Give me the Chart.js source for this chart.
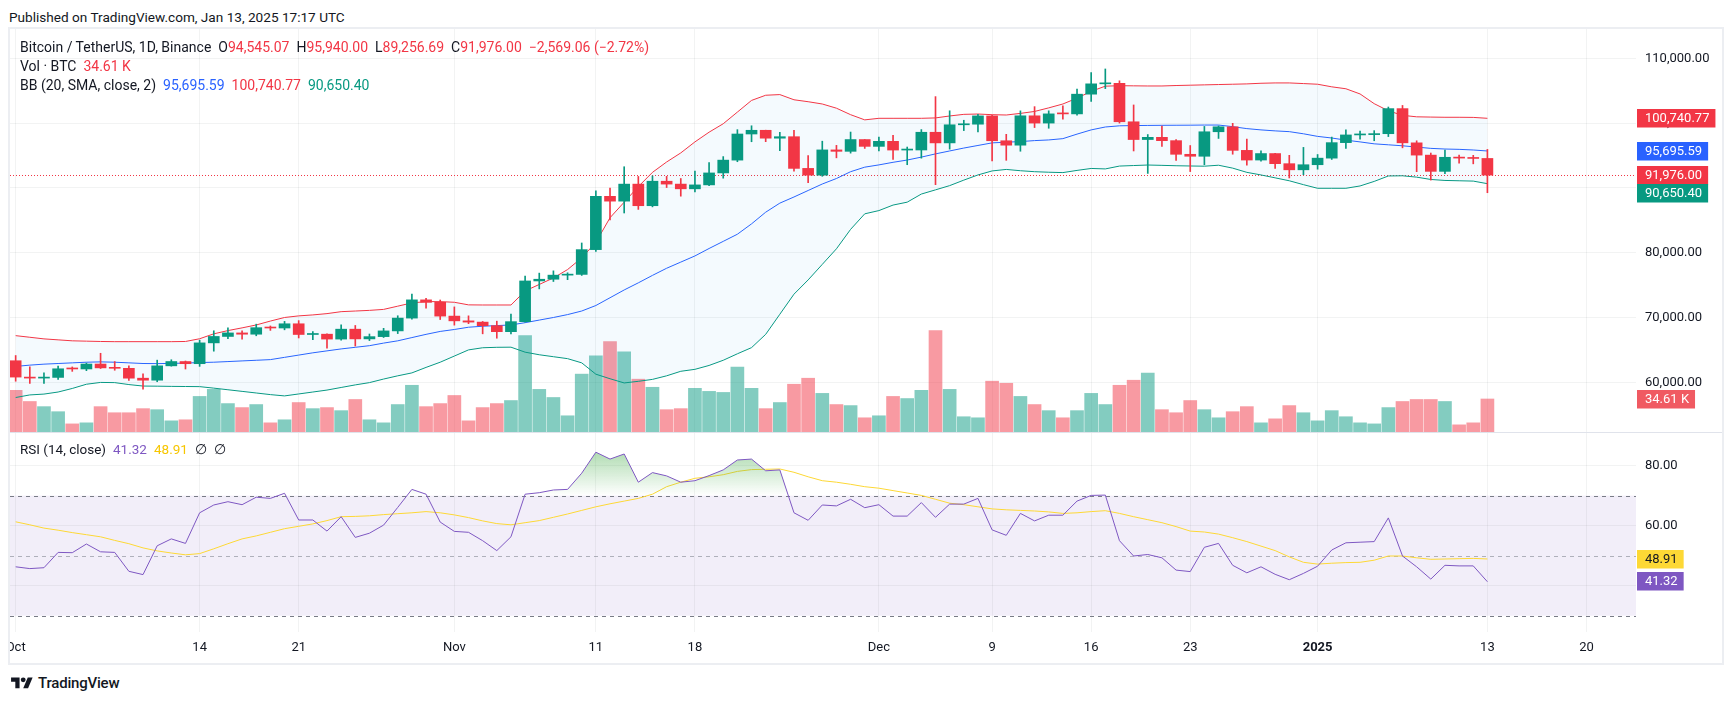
<!DOCTYPE html>
<html>
<head>
<meta charset="utf-8">
<title>Bitcoin / TetherUS 1D</title>
<script src="https://cdn.jsdelivr.net/npm/chart.js@4.4.1/dist/chart.umd.min.js"></script>
<style>
  html, body { margin: 0; padding: 0; background: #fff; }
  body { width: 1734px; height: 703px; position: relative; overflow: hidden;
         font-family: Roboto, "Liberation Sans", Arial, sans-serif; color: #131722; }
  .frame { position: absolute; left: 8px; top: 27px; width: 1716px; height: 638px;
           border: 2px solid #eceef2; box-sizing: border-box; }
  canvas { position: absolute; }
  #priceChart { left: 10px; top: 29px; }
  #rsiChart { left: 10px; top: 432px; }
  .published { position: absolute; left: 9px; top: 8px; font-size: 13.6px; line-height: 18px; }
  .legend { position: absolute; left: 20px; font-size: 14px; line-height: 19px; white-space: nowrap; }
  .legend .g { margin-left: 7px; }
  .rsi-legend { font-size: 13.5px; }
  .red { color: #f23645; } .blue { color: #2962ff; } .green { color: #089981; }
  .purple { color: #7e57c2; } .yellow { color: #f7c600; }
  .footer { position: absolute; left: 11px; top: 673px; height: 20px; display: flex; align-items: center; }
  .footer span { font-size: 15px; font-weight: 500; margin-left: 5px; letter-spacing: -0.2px; }
</style>
</head>
<body>
<div class="published">Published on TradingView.com, Jan 13, 2025 17:17 UTC</div>
<div class="frame"></div>
<canvas id="priceChart" width="1712" height="403"></canvas>
<canvas id="rsiChart" width="1712" height="231"></canvas>

<div class="legend" style="top:38px">
  <div>Bitcoin / TetherUS, 1D, Binance<span class="g">O</span><span class="red">94,545.07</span><span class="g">H</span><span class="red">95,940.00</span><span class="g">L</span><span class="red">89,256.69</span><span class="g">C</span><span class="red">91,976.00</span><span class="g red">−2,569.06 (−2.72%)</span></div>
  <div>Vol · BTC<span class="g red">34.61 K</span></div>
  <div>BB (20, SMA, close, 2)<span class="g blue">95,695.59</span><span class="g red">100,740.77</span><span class="g green">90,650.40</span></div>
</div>
<div class="legend rsi-legend" style="top:440px">RSI (14, close)<span class="g purple">41.32</span><span class="g yellow">48.91</span><span class="g">∅</span><span class="g">∅</span></div>

<div class="footer">
  <svg width="22" height="17" viewBox="0 0 36 28"><path fill="#131722" d="M14 22H7V11H0V4h14v18zM28 22h-8l7.5-18h8L28 22z"/><circle fill="#131722" cx="20" cy="8" r="4"/></svg>
  <span>TradingView</span>
</div>

<script>
// daily candles, Oct 1 2024 .. Jan 13 2025 (index 0 = Oct 1)
const opens = [
  63327.6, 60804.5, 60649.3, 60752.7, 62086.0, 62058.0, 62819.9, 62224.0, 62160.5, 60636.0,
  60326.4, 62540.0, 63206.2, 62870.0, 66083.9, 67074.1, 67620.0, 67421.8, 68428.0, 68378.0,
  69032.0, 67377.5, 67426.0, 66668.6, 68198.3, 66698.3, 67047.7, 67930.0, 69907.6, 72720.5,
  72339.0, 70215.2, 69482.5, 69289.3, 68741.1, 67811.5, 69359.0, 75639.4, 75904.9, 76538.0,
  76649.1, 80474.2, 88701.5, 87955.8, 90584.2, 87250.4, 91031.8, 90587.0, 89855.9, 90464.1,
  92310.8, 94286.6, 98317.1, 98892.0, 97672.4, 97900.0, 93010.0, 91965.2, 95863.1, 95643.9,
  97460.0, 96408.0, 97185.2, 95840.6, 95849.7, 98587.3, 96945.6, 99740.8, 99832.0, 101109.6,
  97276.5, 96593.0, 101125.0, 100004.3, 101424.3, 101420.0, 104464.0, 106058.7, 106133.7, 100204.0,
  97461.9, 97805.4, 97292.0, 95186.3, 94881.5, 98663.6, 99429.6, 95791.6, 94299.0, 95300.0,
  93738.2, 92792.1, 93576.0, 94591.8, 96984.8, 98174.2, 98220.5, 98363.6, 102235.6, 96954.6,
  95060.6, 92552.5, 94726.1, 94600.0, 94545.07
]
const highs = [
  64130.6, 62390.3, 61469.0, 62484.9, 62370.6, 62975.0, 64478.0, 63200.0, 62543.8, 61321.0,
  63417.6, 63480.0, 63285.7, 66500.0, 67950.0, 68424.0, 67939.4, 68969.9, 68693.3, 69400.0,
  69519.5, 67836.0, 67472.8, 68850.0, 68771.5, 67454.6, 68332.5, 70270.0, 73620.1, 72961.0,
  72700.0, 71632.9, 70256.4, 69387.4, 69433.1, 70522.8, 76400.0, 76849.9, 77199.9, 76900.0,
  81500.0, 89530.5, 89956.9, 93265.6, 91765.2, 91850.0, 91779.7, 91449.9, 92594.0, 93905.5,
  94832.0, 98988.0, 99588.0, 98908.9, 98564.0, 98871.8, 94973.4, 97208.2, 96564.0, 98620.0,
  97464.0, 97836.0, 98130.0, 96305.5, 99000.0, 104088.0, 101899.0, 100439.2, 101351.0, 101215.9,
  98270.0, 101888.0, 102540.0, 101895.3, 102650.0, 105250.0, 107793.1, 108353.0, 106525.0, 102800.1,
  98233.0, 99540.6, 97448.1, 96538.9, 99488.0, 99569.2, 99963.7, 97544.6, 95734.0, 95340.0,
  95024.5, 96250.0, 95151.2, 97839.5, 98976.9, 98778.4, 98836.9, 102480.0, 102724.4, 97268.7,
  95382.3, 95836.0, 95050.9, 95024.5, 95940.0
]
const lows = [
  60164.0, 59828.1, 59828.1, 60459.9, 61689.3, 61798.0, 62128.0, 61860.0, 60300.0, 58946.0,
  60087.6, 62487.2, 62050.0, 62457.8, 64800.0, 66750.5, 66666.0, 67177.8, 68010.0, 68100.0,
  66840.7, 66571.4, 65260.0, 66510.0, 65596.3, 66439.9, 66913.7, 67518.6, 69730.0, 71436.0,
  69685.8, 68820.0, 69050.4, 67478.7, 66803.6, 67458.9, 69298.0, 74416.0, 75555.0, 75835.2,
  76492.0, 80216.0, 85072.0, 86127.9, 86682.8, 87073.4, 90056.2, 88722.0, 89376.9, 90357.0,
  91500.0, 94040.0, 97122.1, 97136.0, 95734.8, 92600.2, 90791.1, 91792.1, 94640.0, 95365.0,
  96092.0, 95693.9, 94395.0, 93578.2, 94587.8, 90500.0, 95981.7, 98844.0, 98657.7, 94150.1,
  94256.5, 95658.2, 99311.6, 99205.0, 100609.4, 101237.1, 103333.0, 105321.5, 100000.0, 95700.0,
  92232.5, 96398.4, 94250.4, 92520.0, 93569.0, 97632.0, 95199.1, 93500.0, 94135.7, 93009.5,
  91530.5, 92033.7, 92888.0, 94392.0, 96100.0, 97514.8, 97276.8, 97920.0, 96181.8, 92500.9,
  91203.7, 92206.0, 93831.7, 93712.5, 89256.69
]
const closes = [
  60804.5, 60649.3, 60752.7, 62086.0, 62058.0, 62819.9, 62224.0, 62160.5, 60636.0, 60326.4,
  62540.0, 63206.2, 62870.0, 66083.9, 67074.1, 67620.0, 67421.8, 68428.0, 68378.0, 69032.0,
  67377.5, 67426.0, 66668.6, 68198.3, 66698.3, 67047.7, 67930.0, 69907.6, 72720.5, 72339.0,
  70215.2, 69482.5, 69289.3, 68741.1, 67811.5, 69359.0, 75639.4, 75904.9, 76538.0, 76649.1,
  80474.2, 88701.5, 87955.8, 90584.2, 87250.4, 91031.8, 90587.0, 89855.9, 90464.1, 92310.8,
  94286.6, 98317.1, 98892.0, 97672.4, 97900.0, 93010.0, 91965.2, 95863.1, 95643.9, 97460.0,
  96408.0, 97185.2, 95840.6, 95849.7, 98587.3, 96945.6, 99740.8, 99832.0, 101109.6, 97276.5,
  96593.0, 101125.0, 100004.3, 101424.3, 101420.0, 104464.0, 106058.7, 106133.7, 100204.0, 97461.9,
  97805.4, 97292.0, 95186.3, 94881.5, 98663.6, 99429.6, 95791.6, 94299.0, 95300.0, 93738.2,
  92792.1, 93576.0, 94591.8, 96984.8, 98174.2, 98220.5, 98363.6, 102235.6, 96954.6, 95060.6,
  92552.5, 94726.1, 94600.0, 94545.06, 91976.0
]
// volume, thousands of BTC
const volumesK = [
  43.7, 32.0, 26.6, 21.3, 8.5, 9.6, 26.6, 20.2, 20.2, 24.5,
  23.4, 11.7, 12.8, 37.3, 44.7, 29.8, 25.6, 28.8, 9.6, 12.8,
  30.9, 24.5, 25.6, 22.4, 34.1, 12.8, 9.6, 28.8, 49.0, 26.6,
  29.8, 38.3, 11.7, 25.6, 29.8, 33.0, 101.2, 44.7, 36.2, 17.0,
  60.7, 79.9, 94.8, 84.1, 55.4, 46.9, 23.4, 24.5, 45.8, 42.6,
  41.5, 68.2, 45.8, 24.5, 30.9, 50.1, 56.4, 40.5, 28.8, 27.7,
  14.9, 17.0, 37.3, 35.1, 43.7, 106.5, 44.7, 16.0, 14.9, 53.3,
  51.1, 37.3, 28.8, 22.4, 14.9, 22.4, 40.5, 28.8, 49.0, 54.3,
  61.8, 23.4, 20.2, 33.0, 23.4, 14.9, 21.3, 26.6, 9.6, 13.8,
  27.7, 20.2, 11.7, 22.4, 16.0, 9.6, 8.5, 25.6, 32.0, 34.1,
  34.1, 32.0, 7.5, 9.6, 34.61
]
// Bollinger bands (20, 2), thousands of USDT
const bbUpperK = [
  67.2, 66.95, 66.7, 66.55, 66.4, 66.35, 66.3, 66.27, 66.27, 66.27,
  66.27, 66.27, 66.3, 66.72, 67.48, 67.98, 68.4, 68.85, 69.45, 70.0,
  70.25, 70.4, 70.6, 70.9, 71.0, 71.1, 71.25, 71.75, 72.25, 72.45,
  72.45, 72.35, 71.95, 71.93, 71.93, 71.93, 74.1, 75.1, 76.1, 77.4,
  79.2, 81.6, 85.4, 87.8, 90.2, 92.4, 94.0, 95.4, 97.1, 98.6,
  99.9, 101.7, 103.5, 104.3, 104.4, 103.6, 103.3, 102.95, 102.3, 101.3,
  100.5, 100.74, 100.74, 100.74, 100.74, 100.8, 101.1, 101.35, 101.4, 101.3,
  101.25, 101.5, 101.8, 102.35, 102.95, 103.85, 104.9, 105.7, 105.77, 105.75,
  105.73, 105.73, 105.8, 105.85, 105.9, 105.95, 106.0, 106.05, 106.15, 106.2,
  106.2, 106.1, 106.0, 105.6, 105.3, 104.5, 103.0, 101.9, 101.2, 100.97,
  100.93, 100.9, 100.9, 100.88, 100.74077
]
const bbBasisK = [
  62.45, 62.65, 62.8, 62.9, 63.0, 63.1, 63.15, 63.1, 63.0, 62.9,
  62.88, 62.92, 62.96, 63.05, 63.1, 63.2, 63.3, 63.4, 63.5, 63.85,
  64.2, 64.55, 64.85, 65.15, 65.4, 65.65, 66.05, 66.4, 66.9, 67.4,
  67.85, 68.15, 68.5, 68.65, 68.75, 68.85, 69.2, 69.6, 70.0, 70.45,
  71.0, 71.85, 73.05, 74.25, 75.35, 76.5, 77.6, 78.55, 79.5, 80.65,
  81.75, 82.85, 84.45, 86.25, 87.65, 88.6, 89.6, 90.6, 91.45, 92.5,
  93.2, 93.55, 93.95, 94.3, 94.75, 95.25, 95.7, 96.15, 96.55, 96.95,
  97.05, 97.15, 97.3, 97.4, 97.6, 98.3, 98.95, 99.4, 99.58, 99.62,
  99.64, 99.66, 99.67, 99.68, 99.7, 99.7, 99.45, 99.15, 98.95, 98.8,
  98.68, 98.35, 97.95, 97.7, 97.37, 97.1, 96.8, 96.65, 96.5, 96.3,
  96.1, 96.0, 95.95, 95.85, 95.69559
]
const bbLowerK = [
  57.65, 58.05, 58.18, 58.5, 59.05, 59.7, 59.98, 59.95, 59.65, 59.42,
  59.4, 59.37, 59.35, 59.33, 59.1, 58.85, 58.6, 58.35, 58.1, 57.9,
  58.2, 58.5, 58.8, 59.2, 59.6, 59.95, 60.5, 61.0, 61.45, 62.3,
  63.1, 64.05, 65.0, 65.33, 65.4, 65.42, 64.65, 64.25, 63.95, 63.65,
  63.0, 61.25, 60.55, 59.9, 60.15, 60.45, 61.0, 61.7, 62.0, 62.6,
  63.4, 64.4, 65.35, 67.4, 70.5, 73.6, 75.8, 78.2, 80.6, 83.6,
  86.0, 86.5, 87.35, 87.8, 89.05, 89.7, 90.35, 91.2, 92.0, 92.62,
  92.85, 92.65, 92.5, 92.42, 92.36, 92.7, 93.0, 92.93, 93.37, 93.45,
  93.53, 93.48, 93.42, 93.38, 93.35, 93.5, 93.05, 92.4, 92.0, 91.55,
  91.1, 90.5, 89.94, 89.94, 89.94, 90.3, 91.0, 91.84, 91.87, 91.66,
  91.3, 91.15, 91.1, 91.05, 90.6504
]
// RSI (14) and its moving average
const rsiValues = [
  46.3, 45.7, 46.0, 51.1, 51.0, 53.9, 51.3, 51.1, 44.8, 43.7,
  53.3, 55.6, 54.1, 64.3, 66.9, 68.0, 67.0, 69.5, 69.1, 70.8,
  61.9, 61.9, 58.2, 63.0, 56.1, 57.5, 60.2, 66.1, 72.1, 70.5,
  61.2, 58.1, 57.8, 55.0, 51.7, 56.3, 70.5, 71.0, 71.9, 72.1,
  77.5, 84.5, 82.2, 83.9, 74.5, 77.7, 76.6, 74.5, 75.0, 76.7,
  78.6, 81.9, 82.2, 78.3, 78.6, 64.3, 61.8, 66.9, 66.6, 68.8,
  66.0, 67.0, 63.2, 63.2, 67.7, 62.8, 67.2, 67.2, 69.1, 58.6,
  56.8, 64.1, 61.6, 63.5, 63.5, 68.2, 70.1, 70.2, 55.0, 49.9,
  50.4, 49.3, 45.2, 44.7, 52.8, 54.1, 46.8, 44.3, 46.3, 43.8,
  42.0, 44.1, 46.5, 51.9, 54.3, 54.5, 54.7, 62.6, 49.9, 46.3,
  42.2, 46.8, 46.6, 46.6, 41.32
]
const rsiMaValues = [
  61.3, 60.3, 59.2, 58.5, 57.7, 57.0, 56.3, 55.1, 54.0, 52.6,
  51.6, 50.9, 50.3, 50.7, 52.3, 54.0, 55.6, 56.6, 57.8, 59.0,
  59.8, 60.6, 61.7, 63.0, 63.1, 63.3, 63.7, 64.0, 64.3, 64.7,
  64.3, 63.6, 62.7, 61.6, 60.7, 60.3, 61.0, 61.7, 62.8, 63.9,
  65.1, 66.3, 67.3, 68.2, 69.1, 70.5, 73.0, 74.5, 75.8, 76.3,
  77.0, 78.1, 78.7, 78.8, 78.9, 77.8, 76.3, 75.0, 74.5, 73.8,
  73.0, 72.5, 71.7, 70.9, 70.1, 68.8, 67.5, 67.0, 66.3, 65.6,
  65.3, 65.1, 64.9, 64.6, 64.1, 64.3, 64.7, 65.0, 64.1, 63.0,
  62.0, 61.0, 59.7, 58.2, 57.9, 57.2, 56.0, 54.7, 53.2, 51.7,
  49.6, 47.8, 47.2, 47.5, 47.7, 47.8, 48.5, 49.9, 49.9, 49.3,
  48.8, 48.9, 49.0, 49.1, 48.91
]
const tickDays = [0, 13, 20, 31, 41, 48, 61, 69, 76, 83, 92, 104, 111]
const tickLabels = ["Oct", "14", "21", "Nov", "11", "18", "Dec", "9", "16", "23", "2025", "13", "20"]
const priceTicks = [60000, 70000, 80000, 90000, 100000, 110000]
const rsiTicks = [40, 60, 80]

const UP = "#089981"
const DOWN = "#f23645"
const GRID = "rgba(42,46,57,0.06)"
const FONT = 'Roboto, "Liberation Sans", Arial, sans-serif'

Chart.defaults.font.family = FONT
Chart.defaults.font.size = 13
Chart.defaults.color = "#131722"

const isUp = closes.map((c, i) => c >= opens[i])
const candleColors = isUp.map((u) => (u ? UP : DOWN))
const volColors = isUp.map((u) => (u ? "rgba(8,153,129,0.5)" : "rgba(242,54,69,0.5)"))
const fmt2 = (v) => v.toLocaleString("en-US", { minimumFractionDigits: 2, maximumFractionDigits: 2 })
const thousands = (arr) => arr.map((v, i) => ({ x: i, y: v * 1000 }))
const points = (arr) => arr.map((v, i) => ({ x: i, y: v }))

function timeAxis(showLabels) {
  return {
    type: "linear",
    min: -0.4,
    max: 114.5,
    offset: false,
    grid: { color: GRID, drawTicks: false, offset: false },
    border: { display: false },
    ticks: {
      display: showLabels,
      autoSkip: false,
      maxRotation: 0,
      minRotation: 0,
      padding: 8,
      color: "#131722",
      font: (c) => ({
        size: 13,
        weight: c.tick && tickLabels[tickDays.indexOf(c.tick.value)] === "2025" ? "bold" : "normal",
      }),
      callback: (v, i) => tickLabels[i],
    },
    afterBuildTicks: (s) => {
      s.ticks = tickDays.map((d) => ({ value: d }))
    },
    afterFit: (s) => {
      s.height = showLabels ? 31 : 0
      s.paddingLeft = 0
      s.paddingRight = 0
    },
  }
}

function drawTag(ctx, x, yc, h, text, bg, fg) {
  ctx.font = "13px " + FONT
  const w = ctx.measureText(text).width + 14
  ctx.fillStyle = bg
  ctx.fillRect(x, Math.round(yc - h / 2), w, h)
  ctx.fillStyle = fg
  ctx.textAlign = "left"
  ctx.textBaseline = "middle"
  ctx.fillText(text, x + 8, Math.round(yc - h / 2) + h / 2 + 0.5)
}

// Price pane
const priceExtras = {
  id: "priceExtras",
  beforeDatasetsDraw(chart) {
    const { ctx, chartArea, scales } = chart
    const y = Math.round(scales.y.getPixelForValue(closes[closes.length - 1])) + 0.5
    ctx.save()
    ctx.strokeStyle = DOWN
    ctx.lineWidth = 1
    ctx.setLineDash([1, 2])
    ctx.beginPath()
    ctx.moveTo(chartArea.left, y)
    ctx.lineTo(chartArea.right, y)
    ctx.stroke()
    ctx.restore()
  },
  afterDraw(chart) {
    const { ctx, chartArea, scales } = chart
    const last = closes.length - 1
    const h = 18.5
    const x = chartArea.right + 1
    const tags = [
      { v: bbUpperK[last] * 1000, bg: "#f23645" },
      { v: bbBasisK[last] * 1000, bg: "#2962ff" },
      { v: closes[last], bg: "#f23645" },
      { v: bbLowerK[last] * 1000, bg: "#089981" },
    ].map((t) => ({ ...t, y: scales.y.getPixelForValue(t.v) }))
    tags.sort((a, b) => a.y - b.y)
    for (let i = 1; i < tags.length; i++) {
      const minY = tags[i - 1].y + h
      if (tags[i].y < minY) tags[i].y = minY
    }
    ctx.save()
    tags.forEach((t) => drawTag(ctx, x, t.y, h, fmt2(t.v), t.bg, "#fff"))
    const vy = scales.yv.getPixelForValue(volumesK[last])
    drawTag(ctx, x, vy, h, volumesK[last].toFixed(2) + " K", "#f05a62", "#fff")
    ctx.restore()
  },
}

new Chart(document.getElementById("priceChart"), {
  type: "bar",
  data: {
    datasets: [
      {
        type: "bar",
        label: "Volume",
        yAxisID: "yv",
        data: points(volumesK),
        backgroundColor: volColors,
        barThickness: 13,
        grouped: false,
        order: 6,
      },
      {
        type: "line",
        label: "BB upper",
        data: thousands(bbUpperK),
        borderColor: "#f23645",
        borderWidth: 1,
        pointRadius: 0,
        backgroundColor: "rgba(33,150,243,0.05)",
        fill: "+2",
        order: 3,
      },
      {
        type: "line",
        label: "BB basis",
        data: thousands(bbBasisK),
        borderColor: "#2962ff",
        borderWidth: 1,
        pointRadius: 0,
        fill: false,
        order: 3,
      },
      {
        type: "line",
        label: "BB lower",
        data: thousands(bbLowerK),
        borderColor: "#089981",
        borderWidth: 1,
        pointRadius: 0,
        fill: false,
        order: 3,
      },
      {
        type: "bar",
        label: "Wicks",
        data: highs.map((hi, i) => ({ x: i, y: [lows[i], hi] })),
        backgroundColor: candleColors,
        barThickness: 1,
        grouped: false,
        order: 1,
      },
      {
        type: "bar",
        label: "Bodies",
        data: opens.map((o, i) => ({ x: i, y: [o, closes[i]] })),
        backgroundColor: candleColors,
        barThickness: 11,
        minBarLength: 1,
        grouped: false,
        order: 0,
      },
    ],
  },
  options: {
    responsive: false,
    animation: false,
    events: [],
    layout: { padding: 0 },
    plugins: { legend: { display: false }, tooltip: { enabled: false } },
    scales: {
      x: timeAxis(false),
      y: {
        position: "right",
        min: 52330,
        max: 114522,
        grid: { color: GRID, drawTicks: false },
        border: { display: false },
        ticks: { padding: 9, color: "#131722", font: { size: 13 }, callback: (v) => fmt2(v) },
        afterBuildTicks: (s) => {
          s.ticks = priceTicks.map((v) => ({ value: v }))
        },
        afterFit: (s) => {
          s.width = 86
          s.paddingTop = 0
          s.paddingBottom = 0
        },
      },
      yv: { display: false, min: 0, max: 422.7 },
    },
  },
  plugins: [priceExtras],
})

// RSI pane
const rsiExtras = {
  id: "rsiExtras",
  beforeDraw(chart) {
    const { ctx, chartArea, scales } = chart
    const y70 = scales.y.getPixelForValue(70)
    const y30 = scales.y.getPixelForValue(30)
    ctx.save()
    ctx.fillStyle = "rgba(126,87,194,0.1)"
    ctx.fillRect(chartArea.left, y70, chartArea.right - chartArea.left, y30 - y70)
    ctx.restore()
  },
  beforeDatasetsDraw(chart) {
    const { ctx, chartArea, scales } = chart
    ctx.save()
    ctx.lineWidth = 1
    ctx.setLineDash([4, 4])
    ;[
      [70, "#787b86"],
      [50, "rgba(120,123,134,0.55)"],
      [30, "#787b86"],
    ].forEach(([v, c]) => {
      const y = Math.round(scales.y.getPixelForValue(v)) + 0.5
      ctx.strokeStyle = c
      ctx.beginPath()
      ctx.moveTo(chartArea.left, y)
      ctx.lineTo(chartArea.right, y)
      ctx.stroke()
    })
    ctx.restore()
  },
  afterDraw(chart) {
    const { ctx, chartArea, scales, width } = chart
    const last = rsiValues.length - 1
    ctx.save()
    ctx.strokeStyle = "#e0e3eb"
    ctx.lineWidth = 1
    ctx.beginPath()
    ctx.moveTo(0, 0.5)
    ctx.lineTo(width, 0.5)
    ctx.stroke()
    const x = chartArea.right + 1
    drawTag(ctx, x, scales.y.getPixelForValue(rsiMaValues[last]), 18.5, rsiMaValues[last].toFixed(2), "#fdd835", "#131722")
    drawTag(ctx, x, scales.y.getPixelForValue(rsiValues[last]), 18.5, rsiValues[last].toFixed(2), "#7e57c2", "#fff")
    ctx.restore()
  },
}

new Chart(document.getElementById("rsiChart"), {
  type: "line",
  data: {
    datasets: [
      {
        label: "RSI",
        data: points(rsiValues),
        borderColor: "#7e57c2",
        borderWidth: 1,
        pointRadius: 0,
        backgroundColor: (c) => {
          const ch = c.chart
          if (!ch.chartArea || !ch.scales.y) return "rgba(0,0,0,0)"
          const ys = ch.scales.y
          const g = ch.ctx.createLinearGradient(0, ys.getPixelForValue(100), 0, ys.getPixelForValue(70))
          g.addColorStop(0, "rgba(76,175,80,0.9)")
          g.addColorStop(1, "rgba(76,175,80,0)")
          return g
        },
        fill: { target: { value: 70 }, below: "rgba(0,0,0,0)" },
        order: 0,
      },
      {
        label: "RSI MA",
        data: points(rsiMaValues),
        borderColor: "#fdd835",
        borderWidth: 1,
        pointRadius: 0,
        fill: false,
        order: 1,
      },
    ],
  },
  options: {
    responsive: false,
    animation: false,
    events: [],
    layout: { padding: 0 },
    plugins: { legend: { display: false }, tooltip: { enabled: false } },
    scales: {
      x: timeAxis(true),
      y: {
        position: "right",
        min: 24.57,
        max: 91.23,
        grid: { color: GRID, drawTicks: false },
        border: { display: false },
        ticks: { padding: 9, color: "#131722", font: { size: 13 }, callback: (v) => v.toFixed(2) },
        afterBuildTicks: (s) => {
          s.ticks = rsiTicks.map((v) => ({ value: v }))
        },
        afterFit: (s) => {
          s.width = 86
          s.paddingTop = 0
          s.paddingBottom = 0
        },
      },
    },
  },
  plugins: [rsiExtras],
})
</script>
</body>
</html>
